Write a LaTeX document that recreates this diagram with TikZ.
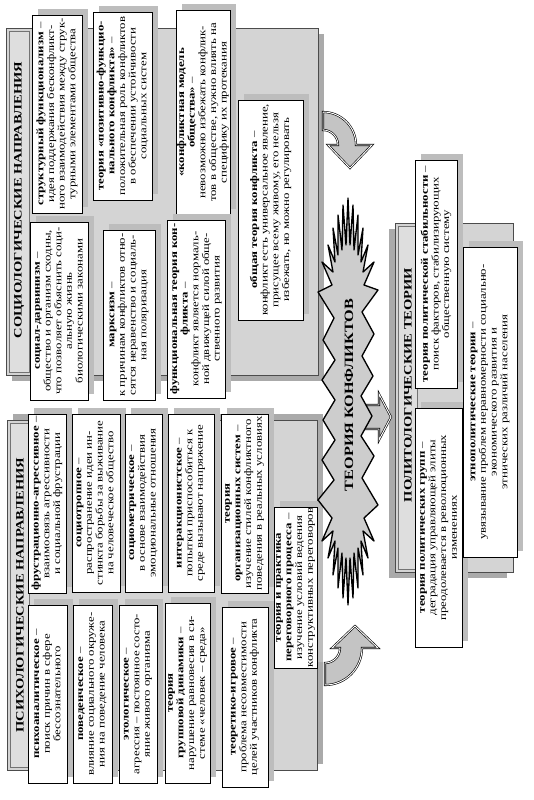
\documentclass[tikz,border=0pt]{standalone}
\usepackage{fontspec}
\setmainfont{Liberation Serif}
\definecolor{shadowgray}{HTML}{BDBDBD}
\definecolor{panelgray}{HTML}{D4D4D4}
\definecolor{pshadow}{HTML}{AAAAAA}
\definecolor{stripgray}{HTML}{DEDEDE}
\definecolor{arrowgray}{HTML}{C4C4C4}
\definecolor{stargray}{HTML}{CDCDCD}
\newcommand{\tbx}[6]{%
  \fill[shd] ({#1+6},{#2-6}) rectangle ({#3+6},{#4-6});
  \draw[bx] (#1,#2) rectangle (#3,#4);
  \node[txt] (#5) at ({(#1+#3)/2},{(#2+#4)/2}) {#6};
}
\begin{document}
\begin{tikzpicture}[x=0.75pt,y=-0.75pt,
  shd/.style={fill=shadowgray},
  bx/.style={fill=white,draw=black,line width=0.6pt},
  pnl/.style={fill=panelgray,draw=black!70,line width=0.6pt},
  pshd/.style={fill=pshadow},
  strip/.style={fill=stripgray,draw=black!55,line width=0.4pt},
  txt/.style={rotate=90,xscale=1.28,align=center,inner sep=0pt,font=\fontsize{7.5}{8}\selectfont},
  ttl/.style={rotate=90,xscale=1.28,inner sep=0pt,font=\fontsize{8.5}{9}\selectfont\bfseries},
  barrow/.style={fill=arrowgray,draw=black,line width=0.45pt,double=white,double distance=0.7pt,line join=miter},
  starshape/.style={fill=stargray,draw=black,line width=1pt,line join=round}
]
\useasboundingbox (0,0) rectangle (533,800);

% ---------- panels ----------
% sociology
\fill[pshd] (12,34) rectangle (324,381);
\draw[pnl] (6,28) rectangle (318,375);
\draw[strip] (9,31) rectangle (29,372);
\node[ttl] (tsoc) at (19,200) {СОЦИОЛОГИЧЕСКИЕ НАПРАВЛЕНИЯ};
% psychology
\fill[pshd] (13,414) rectangle (323,764);
\draw[pnl] (7,420) rectangle (317,770);
\draw[strip] (10,423) rectangle (29,767);
\node[ttl] (tpsy) at (20,595) {ПСИХОЛОГИЧЕСКИЕ НАПРАВЛЕНИЯ};
% politology
\fill[pshd] (389,229) rectangle (507,578);
\draw[pnl] (395,223) rectangle (513,572);
\draw[strip] (398,226) rectangle (417,569);
\node[ttl] (tpol) at (408,385) {ПОЛИТОЛОГИЧЕСКИЕ ТЕОРИИ};

% ---------- sociology boxes ----------
\tbx{32}{15}{82}{213}{s1}{\textbf{структурный функционализм} –\\идея поддержания бесконфликт-\\ного взаимодействия между струк-\\турными элементами общества}
\tbx{93}{12}{152}{200}{s2}{\textbf{теория «позитивно-функцио-}\\\textbf{нального конфликта»} –\\положительная роль конфликтов\\в обеспечении устойчивости\\социальных систем}
\tbx{176}{10}{230}{215}{s3}{\textbf{«конфликтная модель}\\\textbf{общества»} –\\невозможно избежать конфлик-\\тов в обществе, нужно влиять на\\специфику их протекания}
\tbx{30}{222}{88}{400}{s4}{\textbf{социал-дарвинизм} –\\общество и организм сходны,\\что позволяет объяснить соци-\\альную жизнь\\биологическими законами}
\tbx{103}{230}{155}{400}{s5}{\textbf{марксизм} –\\к причинам конфликтов отно-\\сятся неравенство и социаль-\\ная поляризация}
\tbx{167}{220}{225}{398}{s6}{\textbf{функциональная теория кон-}\\\textbf{фликта} –\\конфликт является нормаль-\\ной движущей силой обще-\\ственного развития}
\tbx{238}{100}{303}{320}{s7}{\textbf{общая теория конфликта} –\\конфликт есть универсальное явление,\\присущее всему живому, его нельзя\\избежать, но можно регулировать}

% ---------- psychology boxes ----------
\tbx{28}{414}{66}{593}{p1}{\textbf{фрустрационно-агрессивное} –\\взаимосвязь агрессивности\\и социальной фрустрации}
\tbx{72}{414}{120}{592}{p2}{\textbf{социотропное} –\\распространение идеи ин-\\стинкта борьбы за выживание\\на человеческое общество}
\tbx{125}{414}{162}{592}{p3}{\textbf{социометрическое} –\\в основе взаимодействия\\эмоциональные отношения}
\tbx{168}{414}{214}{592}{p4}{\textbf{интеракционистское} –\\попытки приспособиться к\\среде вызывают напряжение}
\tbx{221}{414}{268}{593}{p5}{\textbf{теория}\\\textbf{организационных систем} –\\изучение стилей конфликтного\\поведения в реальных условиях}
\tbx{28}{605}{67}{783}{p6}{\textbf{психоаналитическое} –\\поиск причин в сфере\\бессознательного}
\tbx{73}{605}{112}{783}{p7}{\textbf{поведенческое} –\\влияние социального окруже-\\ния на поведение человека}
\tbx{119}{605}{157}{783}{p8}{\textbf{этологическое} –\\агрессия – постоянное состо-\\яние живого организма}
\tbx{165}{603}{210}{783}{p9}{\textbf{теория}\\\textbf{групповой динамики} –\\нарушение равновесия в си-\\стеме «человек – среда»}
\tbx{222}{607}{268}{787}{p10}{\textbf{теоретико-игровое} –\\проблема несовместимости\\целей участников конфликта}
\tbx{274}{507}{317}{668}{p11}{\textbf{теория и практика}\\\textbf{переговорного процесса} –\\изучение условий ведения\\конструктивных переговоров}

% ---------- politology boxes ----------
\tbx{415}{160}{457}{388}{l1}{\textbf{теория политической стабильности} –\\поиск факторов, стабилизирующих\\общественную систему}
\tbx{415}{408}{462}{647}{l2}{\textbf{теория политических групп} –\\деградация управляющей элиты\\преодолевается в революционных\\изменениях}
\tbx{463}{247}{517}{557}{l3}{\textbf{этнополитические теории} –\\увязывание проблем неравномерности социально-\\экономического развития и\\этнических различий населения}

% ---------- curved arrows ----------
\path[barrow] (323,112) arc[start angle=-90,end angle=0,radius=33]
  -- (372,145) -- (350,168) -- (328,145) -- (338,145)
  arc[start angle=0,end angle=-90,radius=15] -- cycle;
\path[barrow] (325,685) arc[start angle=90,end angle=0,radius=37]
  -- (378,648) -- (355,626) -- (332,648) -- (340,648)
  arc[start angle=0,end angle=90,radius=15] -- cycle;
% small arrow to politology
\path[barrow] (364,405) -- (379,405) -- (379,394) -- (391,417) -- (379,440) -- (379,429) -- (364,429) -- cycle;

% ---------- central star ----------
\path[starshape] (348,198) -- (350,245) -- (353,205) -- (354,250) -- (358,215) -- (358,255) -- (363,228) -- (361,262) -- (368,245) -- (363,272) -- (374,262) -- (364,285) -- (378,290)
 -- (362,312) -- (374,334) -- (362,356) -- (373,376) -- (361,396) -- (372,416) -- (361,436) -- (374,456) -- (362,478) -- (378,505)
 -- (364,518) -- (374,541) -- (363,531) -- (368,558) -- (361,541) -- (363,575) -- (358,548) -- (358,588) -- (354,553) -- (353,598) -- (350,558) -- (348,605)
 -- (346,558) -- (343,598) -- (342,553) -- (338,588) -- (338,548) -- (333,575) -- (335,541) -- (328,558) -- (333,531) -- (322,541) -- (332,518) -- (318,500)
 -- (334,480) -- (322,460) -- (335,440) -- (323,420) -- (335,400) -- (322,380) -- (335,360) -- (323,340) -- (334,318) -- (318,292)
 -- (332,285) -- (322,262) -- (333,272) -- (328,245) -- (335,262) -- (333,228) -- (338,255) -- (338,215) -- (342,250) -- (343,205) -- (346,245) -- cycle;
\node[rotate=90,xscale=1.28,inner sep=0pt,font=\fontsize{9.5}{10}\selectfont\bfseries] (core) at (349,395) {ТЕОРИЯ КОНФЛИКТОВ};
\end{tikzpicture}
\end{document}
